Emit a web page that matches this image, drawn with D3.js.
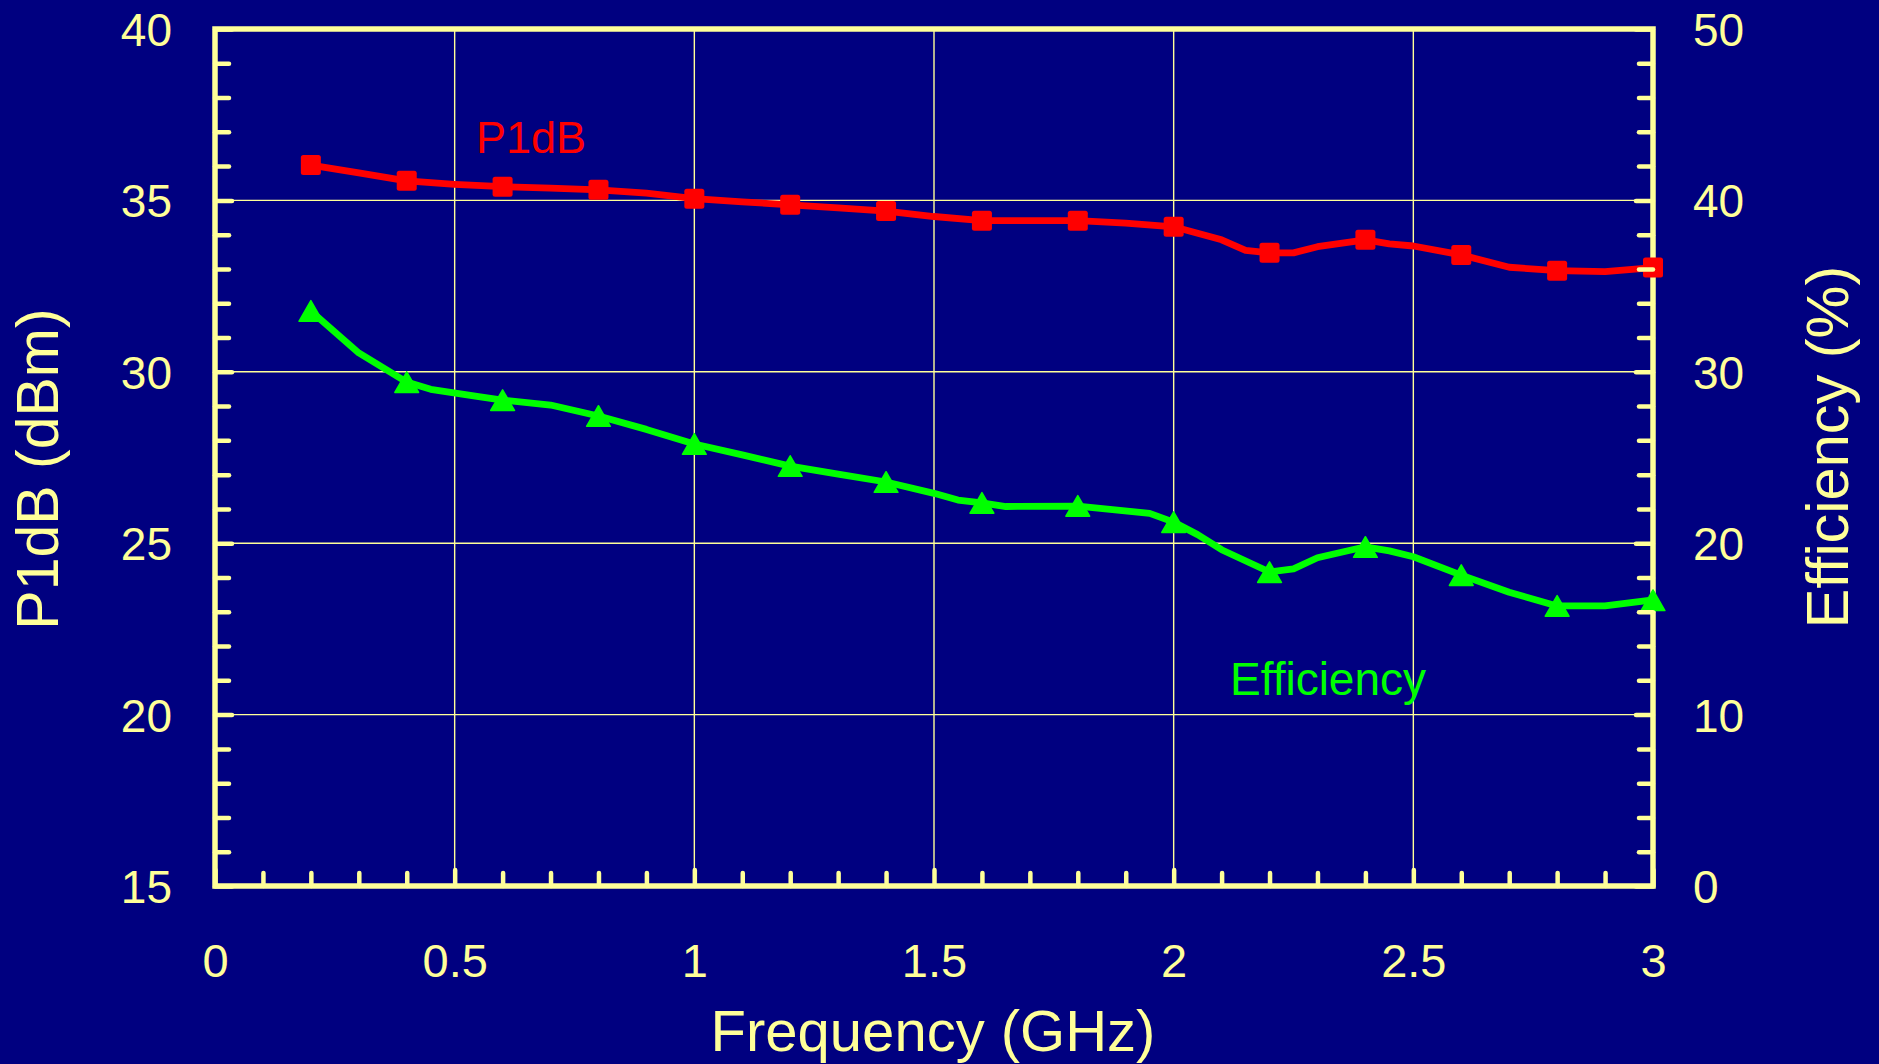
<!DOCTYPE html>
<html>
<head>
<meta charset="utf-8">
<script src="https://cdn.jsdelivr.net/npm/d3@7"></script>
<style>
  html, body { margin: 0; padding: 0; background: #000080; }
  svg { display: block; }
  text { font-family: "Liberation Sans", Arial, sans-serif; }
</style>
</head>
<body>
<svg id="chart" width="1879" height="1064"></svg>
<script>
// ---------- data ----------
const markerFreq = [0.2, 0.4, 0.6, 0.8, 1.0, 1.2, 1.4, 1.6, 1.8, 2.0, 2.2, 2.4, 2.6, 2.8, 3.0];
const p1dbMarker = [36.03, 35.57, 35.40, 35.31, 35.05, 34.87, 34.69, 34.41, 34.41, 34.23, 33.47, 33.85, 33.41, 32.95, 33.04];
const effMarker  = [33.55, 29.40, 28.35, 27.42, 25.79, 24.50, 23.57, 22.35, 22.18, 21.23, 18.31, 19.78, 18.14, 16.34, 16.67];

const p1dbLineFreq = [0.2, 0.3, 0.4, 0.5, 0.6, 0.7, 0.8, 0.9, 1.0, 1.1, 1.2, 1.3, 1.4, 1.5, 1.6, 1.7, 1.8, 1.9, 2.0, 2.05, 2.1, 2.15, 2.2, 2.25, 2.3, 2.4, 2.45, 2.5, 2.6, 2.7, 2.8, 2.9, 3.0];
const p1dbLineVal  = [36.03, 35.80, 35.57, 35.47, 35.40, 35.36, 35.31, 35.21, 35.05, 34.96, 34.87, 34.78, 34.69, 34.53, 34.41, 34.41, 34.41, 34.34, 34.23, 34.04, 33.85, 33.54, 33.47, 33.47, 33.65, 33.85, 33.73, 33.67, 33.41, 33.05, 32.95, 32.92, 33.04];

const effLineFreq = [0.2, 0.3, 0.4, 0.45, 0.55, 0.6, 0.7, 0.8, 0.9, 1.0, 1.1, 1.2, 1.3, 1.4, 1.5, 1.55, 1.6, 1.65, 1.8, 1.95, 2.0, 2.05, 2.1, 2.2, 2.25, 2.3, 2.4, 2.45, 2.5, 2.6, 2.7, 2.8, 2.9, 3.0];
const effLineVal  = [33.55, 31.10, 29.40, 28.98, 28.55, 28.35, 28.06, 27.42, 26.64, 25.79, 25.15, 24.50, 24.03, 23.57, 22.91, 22.52, 22.35, 22.14, 22.16, 21.74, 21.23, 20.50, 19.62, 18.32, 18.50, 19.15, 19.79, 19.55, 19.21, 18.14, 17.14, 16.34, 16.34, 16.70];

const xMajorTicks = [0, 0.5, 1, 1.5, 2, 2.5, 3];
const xMajorLabels = ["0", "0.5", "1", "1.5", "2", "2.5", "3"];
const yLeftTicks = [15, 20, 25, 30, 35, 40];
const yRightTicks = [0, 10, 20, 30, 40, 50];

const xTitle = "Frequency (GHz)";
const yLeftTitle = "P1dB (dBm)";
const yRightTitle = "Efficiency (%)";
const p1dbLabel = "P1dB";
const effLabel = "Efficiency";

// ---------- layout ----------
const AX = "#FFFF99";
const L = 215, R = 1653, T = 29, B = 886;

const svg = d3.select("#chart");
svg.append("rect").attr("width", 1879).attr("height", 1064).attr("fill", "#000080");

const x = d3.scaleLinear().domain([0, 3]).range([L, R]);
const yL = d3.scaleLinear().domain([15, 40]).range([B, T]);
const yR = d3.scaleLinear().domain([0, 50]).range([B, T]);

// gridlines
const grid = svg.append("g").attr("stroke", AX).attr("stroke-width", 1.4);
grid.selectAll("line.gx").data([0.5, 1, 1.5, 2, 2.5]).join("line")
  .attr("x1", d => x(d)).attr("x2", d => x(d)).attr("y1", T).attr("y2", B);
grid.selectAll("line.gy").data([20, 25, 30, 35]).join("line")
  .attr("y1", d => yL(d)).attr("y2", d => yL(d)).attr("x1", L).attr("x2", R);

// frame
svg.append("rect").attr("x", L).attr("y", T).attr("width", R - L).attr("height", B - T)
  .attr("fill", "none").attr("stroke", AX).attr("stroke-width", 5.5);

// series lines
const p1dbPts = p1dbLineFreq.map((f, i) => [f, p1dbLineVal[i]]);
const effPts = effLineFreq.map((f, i) => [f, effLineVal[i]]);
svg.append("path").datum(p1dbPts)
  .attr("d", d3.line().x(d => x(d[0])).y(d => yL(d[1])))
  .attr("fill", "none").attr("stroke", "#FF0000").attr("stroke-width", 6.8)
  .attr("stroke-linejoin", "round").attr("stroke-linecap", "round");
svg.append("path").datum(effPts)
  .attr("d", d3.line().x(d => x(d[0])).y(d => yR(d[1])))
  .attr("fill", "none").attr("stroke", "#00FF00").attr("stroke-width", 6.8)
  .attr("stroke-linejoin", "round").attr("stroke-linecap", "round");

// markers
const sq = 20;
svg.append("g").selectAll("rect").data(markerFreq.map((f, i) => [f, p1dbMarker[i]])).join("rect")
  .attr("x", d => x(d[0]) - sq / 2).attr("y", d => yL(d[1]) - sq / 2)
  .attr("width", sq).attr("height", sq).attr("rx", 2.5).attr("fill", "#FF0000");

const triSize = 245;
const triY = Math.sqrt(triSize / (3 * Math.sqrt(3)));
svg.append("g").selectAll("path").data(markerFreq.map((f, i) => [f, effMarker[i]])).join("path")
  .attr("d", d3.symbol().type(d3.symbolTriangle).size(triSize))
  .attr("transform", d => `translate(${x(d[0])},${yR(d[1]) + triY / 2})`)
  .attr("fill", "#00FF00").attr("stroke", "#00FF00").attr("stroke-width", 1.5).attr("stroke-linejoin", "round");

// axes
function styleAxis(g) {
  g.select(".domain").remove();
  g.selectAll(".tick line").attr("stroke", AX).attr("stroke-width", 4.5).attr("stroke-linecap", "round");
  g.selectAll(".tick text").attr("fill", AX).attr("font-size", 46)
    .attr("font-family", '"Liberation Sans", Arial, sans-serif');
}
const xMinor = d3.range(1, 30).filter(i => i % 5 !== 0).map(i => i / 10);
const yLMinor = d3.range(16, 40).filter(v => v % 5 !== 0);
const yRMinor = d3.range(2, 50, 2).filter(v => v % 10 !== 0);

svg.append("g").attr("transform", `translate(0,${B})`)
  .call(d3.axisBottom(x).tickValues(xMinor).tickSize(-13).tickFormat(""))
  .call(styleAxis);
svg.append("g").attr("transform", `translate(0,${B})`)
  .call(d3.axisBottom(x).tickValues(xMajorTicks).tickSize(-16).tickPadding(58)
    .tickFormat((d, i) => xMajorLabels[i]))
  .call(styleAxis)
  .call(g => g.selectAll(".tick text").attr("font-size", 47));

svg.append("g").attr("transform", `translate(${L},0)`)
  .call(d3.axisLeft(yL).tickValues(yLMinor).tickSize(-14).tickFormat(""))
  .call(styleAxis);
svg.append("g").attr("transform", `translate(${L},0)`)
  .call(d3.axisLeft(yL).tickValues(yLeftTicks).tickSize(-17).tickPadding(43).tickFormat(d3.format("d")))
  .call(styleAxis)
  .call(g => g.selectAll(".tick text").attr("dy", "0.36em"));

svg.append("g").attr("transform", `translate(${R},0)`)
  .call(d3.axisRight(yR).tickValues(yRMinor).tickSize(-14).tickFormat(""))
  .call(styleAxis);
svg.append("g").attr("transform", `translate(${R},0)`)
  .call(d3.axisRight(yR).tickValues(yRightTicks).tickSize(-17).tickPadding(40).tickFormat(d3.format("d")))
  .call(styleAxis)
  .call(g => g.selectAll(".tick text").attr("dy", "0.36em"));

// titles
svg.append("text").attr("x", 933).attr("y", 1051).attr("text-anchor", "middle")
  .attr("font-size", 58).attr("fill", AX).text(xTitle);
svg.append("text").attr("transform", "translate(58,469) rotate(-90)").attr("text-anchor", "middle")
  .attr("font-size", 59).attr("fill", AX).text(yLeftTitle);
svg.append("text").attr("transform", "translate(1848,447) rotate(-90)").attr("text-anchor", "middle")
  .attr("font-size", 59.5).attr("fill", AX).text(yRightTitle);

// series labels
svg.append("text").attr("x", 476).attr("y", 153).attr("font-size", 45).attr("fill", "#FF0000").text(p1dbLabel);
svg.append("text").attr("x", 1230).attr("y", 695).attr("font-size", 46).attr("fill", "#00FF00").text(effLabel);
</script>
</body>
</html>
